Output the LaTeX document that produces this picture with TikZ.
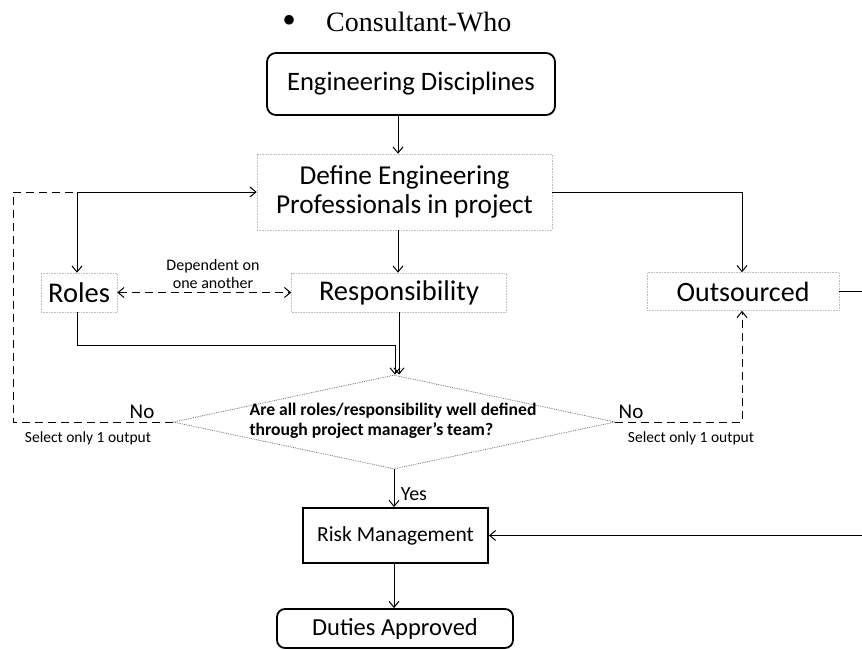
\documentclass[tikz,border=0pt]{standalone}
\usepackage{fontspec}
\setmainfont{Carlito}
\newfontfamily\serifface{Liberation Serif}
\usetikzlibrary{arrows.meta,shapes.geometric,calc}

\newcommand{\fsz}[1]{\fontsize{#1}{#1}\selectfont}

\begin{document}
\begin{tikzpicture}[x=1pt,y=-1pt,
  tip/.style={-{Straight Barb[length=6pt,width=10pt]}},
  bothtips/.style={{Straight Barb[length=6pt,width=10pt]}-{Straight Barb[length=6pt,width=10pt]}},
  conn/.style={draw=black,line width=1pt},
  fbline/.style={draw=black,line width=1pt,dash pattern=on 8pt off 5pt},
  strongbox/.style={draw=black,line width=1.8pt,inner sep=0pt},
  softbox/.style={draw=black!25,densely dotted,line width=0.6pt,inner sep=0pt},
  lbl/.style={inner sep=0pt},
]
\useasboundingbox (0,0) rectangle (862,650);

% heading line
\node[lbl,font=\serifface\fsz{40}] (bul) at (289,24) {•};
\node[lbl,font=\serifface\fsz{28},anchor=base west] (cw) at (326,32) {Consultant-Who};

% main boxes
\node[strongbox,rounded corners=9pt,minimum width=288pt,minimum height=62pt,font=\fsz{26.6}] (ed) at (411,84) {Engineering Disciplines};
\node[softbox,minimum width=295pt,minimum height=76pt,align=center,font=\fontsize{27.3}{29}\selectfont] (define) at (404.5,192) {Define Engineering\\Professionals in project};
\node[softbox,minimum width=76pt,minimum height=39pt,font=\fsz{28.5}] (roles) at (79,292.5) {Roles};
\node[softbox,minimum width=215pt,minimum height=39pt,font=\fsz{28.5}] (resp) at (399,292.5) {Responsibility};
\node[softbox,minimum width=192pt,minimum height=38pt,font=\fsz{28}] (outs) at (743,291.5) {Outsourced};

% decision
\node[diamond,draw=black!55,densely dotted,line width=0.8pt,minimum width=442pt,minimum height=94pt,inner sep=0pt] (dia) at (394,422) {};
\node[lbl,align=left,font=\bfseries\fontsize{17.6}{20}\selectfont] (q) at (393,421) {Are all roles/responsibility well defined\\through project manager’s team?};

\node[strongbox,minimum width=185pt,minimum height=55pt,font=\fsz{21.5}] (risk) at (395.5,535.5) {Risk Management};
\node[strongbox,rounded corners=8pt,minimum width=236pt,minimum height=39pt,font=\fsz{24.5}] (duties) at (395,628.5) {Duties Approved};

% labels
\node[lbl,align=center,font=\fontsize{16}{18}\selectfont] (dep) at (213,274) {Dependent on\\one another};
\node[lbl,font=\fsz{21}] (noL) at (142,412) {No};
\node[lbl,font=\fsz{21}] (noR) at (631,412) {No};
\node[lbl,font=\fsz{15.5}] (selL) at (88,438) {Select only 1 output};
\node[lbl,font=\fsz{15.5}] (selR) at (691,438) {Select only 1 output};
\node[lbl,font=\fsz{20}] (yes) at (414,494) {Yes};

% guide columns and rows for the connectors
\coordinate (spine) at (398,0);
\coordinate (lx) at (77,0);
\coordinate (fb) at (13,0);
\coordinate (ox) at (742,0);
\coordinate (jA) at (395,0);
\coordinate (jB) at (399,0);
\coordinate (rjoin) at (0,345);
\coordinate (redge) at (862,0);
\coordinate (lj) at (define.west -| lx);

% connectors
\draw[conn,tip] (ed.south -| spine) -- (define.north -| spine);
\draw[conn,tip] (define.south -| spine) -- (resp.north -| spine);
\draw[conn,tip] (lj) -- (define.west);
\draw[conn,tip] (lj) -- (roles.north -| lx);
\draw[conn,tip] (define.east) -| (outs.north -| ox);
\draw[conn] (outs.east) -- (outs.east -| redge);
\draw[conn,tip] (risk.east -| redge) -- (risk.east);
\draw[conn,tip] (roles.south -| lx) |- (rjoin -| jA) -- (dia.north -| jA);
\draw[conn,tip] (resp.south -| jB) -- (dia.north -| jB);
\draw[fbline,bothtips] (roles.east) -- (resp.west);
\draw[fbline] (dia.west) -| (lj -| fb) -- (lj);
\draw[fbline,tip] (dia.east) -| (outs.south -| ox);
\draw[conn,tip] (dia.south) -- (risk.north -| dia.south);
\draw[conn,tip] (risk.south -| dia.south) -- (duties.north -| dia.south);
\end{tikzpicture}
\end{document}
